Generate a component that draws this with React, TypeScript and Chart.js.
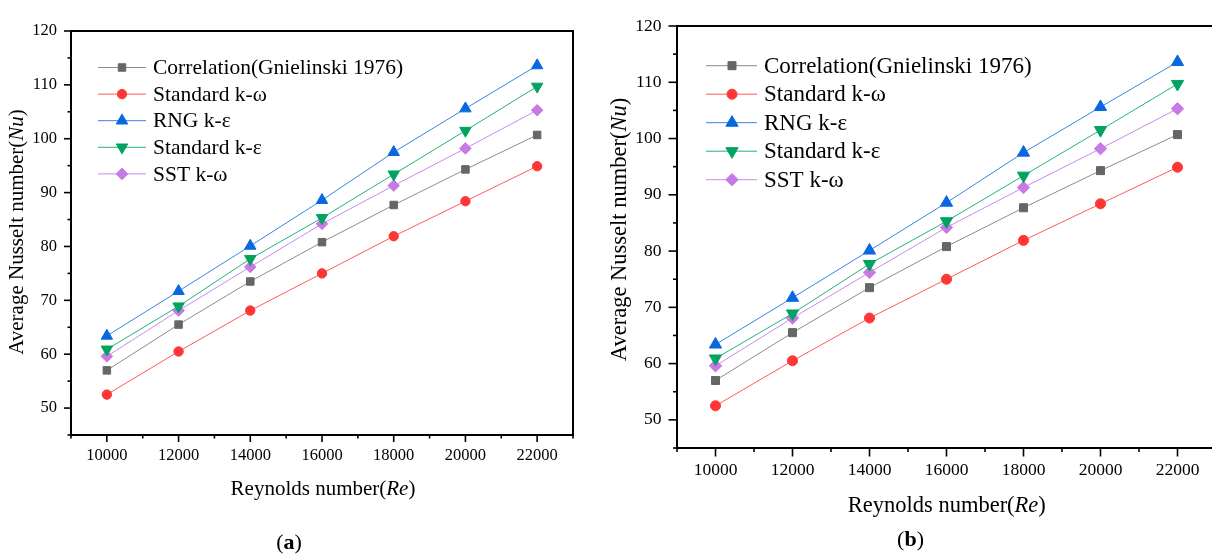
import React, { useEffect, useRef } from 'react';
import { Chart, registerables } from 'chart.js';

Chart.register(...registerables);

// ---------- data ----------
const reynolds = [10000, 12000, 14000, 16000, 18000, 20000, 22000];
const correlation = [57.0, 65.5, 73.5, 80.8, 87.7, 94.3, 100.7];
const standardKOmega = [52.5, 60.5, 68.1, 75.0, 81.9, 88.4, 94.9];
const rngKEpsilon = [63.4, 71.7, 80.1, 88.6, 97.5, 105.6, 113.6];
const standardKEpsilon = [60.9, 68.9, 77.7, 85.3, 93.4, 101.5, 109.7];
const sstKOmega = [59.6, 68.1, 76.2, 84.2, 91.3, 98.2, 105.3];
const seriesLabels = [
  'Correlation(Gnielinski 1976)',
  'Standard k-ω',
  'RNG k-ε',
  'Standard k-ε',
  'SST k-ω',
];
const xMin = 9000;
const xMax = 23000;
const yMin = 45;
const yMax = 120;

const FONT = '"Liberation Serif", "Times New Roman", serif';

const seriesStyles = [
  { line: '#8c8c8c', marker: '#666666', style: 'rect', rot: 0, r: 5.3 },
  { line: '#ff5a5a', marker: '#ff3636', style: 'circle', rot: 0, r: 4.7 },
  { line: '#3585e6', marker: '#0868e0', style: 'triangle', rot: 0, r: 6.6 },
  { line: '#21b27a', marker: '#00a35f', style: 'triangle', rot: 180, r: 6.6 },
  { line: '#c98aec', marker: '#c77ae3', style: 'rectRot', rot: 0, r: 5.8 },
];
const seriesValues = [correlation, standardKOmega, rngKEpsilon, standardKEpsilon, sstKOmega];

type Panel = {
  left: number;
  width: number;
  height: number;
  area: { l: number; t: number; r: number; b: number };
  s: number;
  tickFont: number;
  titleFont: number;
  legendFont: number;
  legend: { x0: number; x1: number; mx: number; tx: number; row0: number; gap: number };
  xTitle: { cx: number; cy: number };
  yTitle: { cx: number; cy: number };
  major: number;
  minor: number;
  yPad: number;
  xPad: number;
};

const panels: Panel[] = [
  {
    left: 0,
    width: 600,
    height: 556,
    area: { l: 71, t: 31, r: 573, b: 435 },
    s: 1,
    tickFont: 16.5,
    titleFont: 21,
    legendFont: 21.5,
    legend: { x0: 27, x1: 75, mx: 51, tx: 82, row0: 36.5, gap: 26.6 },
    xTitle: { cx: 323, cy: 489 },
    yTitle: { cx: 17.5, cy: 232 },
    major: 7,
    minor: 3.5,
    yPad: 14,
    xPad: 11,
  },
  {
    left: 600,
    width: 640,
    height: 556,
    area: { l: 77, t: 13, r: 616, b: 448 },
    s: 1.07,
    tickFont: 17.5,
    titleFont: 22.5,
    legendFont: 23,
    legend: { x0: 29, x1: 80, mx: 55, tx: 87, row0: 39.7, gap: 28.5 },
    xTitle: { cx: 346.8, cy: 506 },
    yTitle: { cx: 20.5, cy: 229.5 },
    major: 8.5,
    minor: 4,
    yPad: 15.5,
    xPad: 11.5,
  },
];

function drawMarker(ctx: CanvasRenderingContext2D, style: string, rot: number, x: number, y: number, r: number, color: string) {
  ctx.save();
  ctx.fillStyle = color;
  ctx.strokeStyle = color;
  ctx.lineWidth = 1;
  ctx.beginPath();
  const rad0 = (rot * Math.PI) / 180;
  if (style === 'circle') {
    ctx.arc(x, y, r, 0, Math.PI * 2);
  } else if (style === 'rect') {
    const sz = Math.SQRT1_2 * r;
    ctx.rect(x - sz, y - sz, 2 * sz, 2 * sz);
  } else if (style === 'rectRot') {
    ctx.moveTo(x, y - r);
    ctx.lineTo(x + r, y);
    ctx.lineTo(x, y + r);
    ctx.lineTo(x - r, y);
  } else if (style === 'triangle') {
    let rad = rad0;
    ctx.moveTo(x + Math.sin(rad) * r, y - Math.cos(rad) * r);
    rad += (2 * Math.PI) / 3;
    ctx.lineTo(x + Math.sin(rad) * r, y - Math.cos(rad) * r);
    rad += (2 * Math.PI) / 3;
    ctx.lineTo(x + Math.sin(rad) * r, y - Math.cos(rad) * r);
  }
  ctx.closePath();
  ctx.fill();
  ctx.stroke();
  ctx.restore();
}

function drawMixed(
  ctx: CanvasRenderingContext2D,
  parts: { t: string; i: boolean }[],
  cx: number,
  cy: number,
  size: number,
  vertical: boolean
) {
  ctx.save();
  const fontOf = (i: boolean) => `${i ? 'italic ' : ''}${size}px ${FONT}`;
  let total = 0;
  const widths = parts.map((p) => {
    ctx.font = fontOf(p.i);
    const w = ctx.measureText(p.t).width;
    total += w;
    return w;
  });
  ctx.translate(cx, cy);
  if (vertical) ctx.rotate(-Math.PI / 2);
  ctx.fillStyle = '#000';
  ctx.textBaseline = 'middle';
  ctx.textAlign = 'left';
  let x = -total / 2;
  parts.forEach((p, k) => {
    ctx.font = fontOf(p.i);
    ctx.fillText(p.t, x, 0);
    x += widths[k];
  });
  ctx.restore();
}

function makeConfig(p: Panel): any {
  const datasets = seriesValues.map((vals, i) => {
    const st = seriesStyles[i];
    return {
      label: seriesLabels[i],
      data: reynolds.map((x, k) => ({ x, y: vals[k] })),
      borderColor: st.line,
      backgroundColor: st.marker,
      borderWidth: 1,
      pointStyle: st.style,
      pointRotation: st.rot,
      pointRadius: st.r * p.s,
      pointBackgroundColor: st.marker,
      pointBorderColor: st.marker,
      pointBorderWidth: 1,
      tension: 0,
      fill: false,
    };
  });

  const framePlugin = {
    id: 'frameTicks',
    afterDraw(chart: any) {
      const ctx = chart.ctx as CanvasRenderingContext2D;
      const a = chart.chartArea;
      const xs = chart.scales.x;
      const ys = chart.scales.y;
      ctx.save();
      ctx.strokeStyle = '#000';
      ctx.lineWidth = 1.6;
      ctx.lineCap = 'butt';
      // ticks
      for (let v = yMin; v <= yMax; v += 5) {
        const py = ys.getPixelForValue(v);
        const len = v % 10 === 0 ? p.major : p.minor;
        ctx.beginPath();
        ctx.moveTo(a.left - len, py);
        ctx.lineTo(a.left, py);
        ctx.stroke();
      }
      for (let v = xMin; v <= xMax; v += 1000) {
        const px = xs.getPixelForValue(v);
        const len = v % 2000 === 0 ? p.major : p.minor;
        ctx.beginPath();
        ctx.moveTo(px, a.bottom);
        ctx.lineTo(px, a.bottom + len);
        ctx.stroke();
      }
      ctx.lineWidth = 2;
      ctx.beginPath();
      ctx.rect(a.left, a.top, a.right - a.left, a.bottom - a.top);
      ctx.stroke();
      ctx.restore();

      // legend
      const lg = p.legend;
      chart.data.datasets.forEach((ds: any, i: number) => {
        const st = seriesStyles[i];
        const y = a.top + lg.row0 + i * lg.gap;
        ctx.save();
        ctx.strokeStyle = st.line;
        ctx.lineWidth = 1;
        ctx.beginPath();
        ctx.moveTo(a.left + lg.x0, y);
        ctx.lineTo(a.left + lg.x1, y);
        ctx.stroke();
        ctx.restore();
        drawMarker(ctx, st.style, st.rot, a.left + lg.mx, y, st.r * p.s, st.marker);
        ctx.save();
        ctx.fillStyle = '#000';
        ctx.font = `${p.legendFont}px ${FONT}`;
        ctx.textBaseline = 'middle';
        ctx.textAlign = 'left';
        ctx.fillText(ds.label, a.left + lg.tx, y + 1);
        ctx.restore();
      });

      // axis titles
      drawMixed(
        ctx,
        [
          { t: 'Reynolds number(', i: false },
          { t: 'Re', i: true },
          { t: ')', i: false },
        ],
        p.xTitle.cx,
        p.xTitle.cy,
        p.titleFont,
        false
      );
      drawMixed(
        ctx,
        [
          { t: 'Average Nusselt number(', i: false },
          { t: 'Nu', i: true },
          { t: ')', i: false },
        ],
        p.yTitle.cx,
        p.yTitle.cy,
        p.titleFont,
        true
      );
    },
  };

  return {
    type: 'line',
    data: { datasets },
    plugins: [framePlugin],
    options: {
      animation: false,
      responsive: false,
      devicePixelRatio: 1,
      layout: {
        padding: { left: 0, top: p.area.t, right: p.width - p.area.r, bottom: 0 },
      },
      plugins: { legend: { display: false }, tooltip: { enabled: false }, title: { display: false } },
      scales: {
        x: {
          type: 'linear',
          min: xMin,
          max: xMax,
          grid: { display: false, drawTicks: false },
          border: { display: false },
          ticks: {
            stepSize: 1000,
            autoSkip: false,
            maxRotation: 0,
            padding: p.xPad,
            color: '#000',
            font: { family: FONT, size: p.tickFont },
            callback: (v: number) => (v % 2000 === 0 && v >= 10000 && v <= 22000 ? String(v) : ''),
          },
          afterFit: (sc: any) => {
            sc.height = p.height - p.area.b;
          },
        },
        y: {
          type: 'linear',
          min: yMin,
          max: yMax,
          grid: { display: false, drawTicks: false },
          border: { display: false },
          ticks: {
            stepSize: 5,
            autoSkip: false,
            padding: p.yPad,
            color: '#000',
            font: { family: FONT, size: p.tickFont },
            callback: (v: number) => (v % 10 === 0 ? String(v) : ''),
          },
          afterFit: (sc: any) => {
            sc.width = p.area.l;
          },
        },
      },
    },
  };
}

function PanelChart({ p }: { p: Panel }) {
  const ref = useRef<HTMLCanvasElement | null>(null);
  useEffect(() => {
    if (!ref.current) return;
    const chart = new Chart(ref.current, makeConfig(p));
    return () => chart.destroy();
  }, [p]);
  return (
    <canvas
      ref={ref}
      width={p.width}
      height={p.height}
      style={{ position: 'absolute', left: p.left, top: 0, width: p.width, height: p.height }}
    />
  );
}

export default function App() {
  const capStyle = (cx: number, cy: number): React.CSSProperties => ({
    position: 'absolute',
    left: cx,
    top: cy,
    transform: 'translate(-50%, -50%)',
    fontFamily: FONT,
    fontSize: 22,
    color: '#000',
    whiteSpace: 'nowrap',
    lineHeight: 1,
  });
  return (
    <div
      style={{
        position: 'fixed',
        left: 0,
        top: 0,
        width: 1212,
        height: 556,
        overflow: 'hidden',
        background: '#fff',
      }}
    >
      {panels.map((p, i) => (
        <PanelChart key={i} p={p} />
      ))}
      <div style={capStyle(289, 542)}>
        (<b>a</b>)
      </div>
      <div style={capStyle(910.5, 539)}>
        (<b>b</b>)
      </div>
    </div>
  );
}
